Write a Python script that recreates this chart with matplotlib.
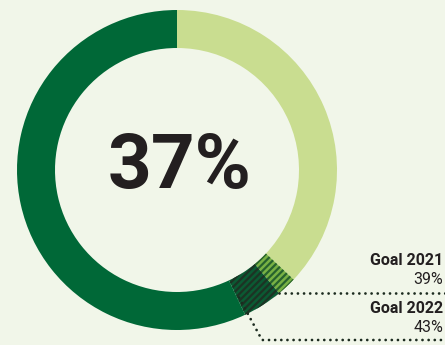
import numpy as np
import matplotlib.pyplot as plt
import matplotlib as mpl

# donut data (percent of the ring, clockwise from 12 o'clock)
segment_names = ['Progress', 'Goal 2021', 'Goal 2022', 'Remaining']
segment_values = [37, 2, 4, 57]
segment_colors = ['#c9dd90', '#78b144', '#0b5a33', '#006837']
segment_hatches = [None, '/////', '/////', None]
hatch_colors = [None, '#27622d', '#1c3324', None]

center_label = '37%'
goal_labels = ['Goal 2021', 'Goal 2022']
goal_values = ['39%', '43%']
goal_cum = [39, 43]

bg = '#f1f6e9'
text_color = '#231f20'

mpl.rcParams['hatch.linewidth'] = 1.6

fig = plt.figure(figsize=(4.45, 3.45), dpi=100)
fig.patch.set_facecolor(bg)
ax = fig.add_axes([0, 0, 1, 1])
ax.set_facecolor(bg)
ax.set_xlim(0, 445)
ax.set_ylim(0, 345)
ax.set_aspect('equal')
ax.axis('off')

cx, cy, R, ring = 177, 175, 160, 38

wedges, _ = ax.pie(segment_values, colors=segment_colors, startangle=90,
                   counterclock=False, center=(cx, cy), radius=R,
                   wedgeprops=dict(width=ring, linewidth=0))
ax.set_xlim(0, 445)
ax.set_ylim(0, 345)
for w, h, hc in zip(wedges, segment_hatches, hatch_colors):
    if h:
        w.set_hatch(h)
        w.set_edgecolor(hc)
        w.set_linewidth(0)

ax.text(cx + 3, 157, center_label, ha='center', va='baseline',
        fontsize=55, fontweight='bold', family='Roboto', color=text_color)

# leader lines for the goals
dot = dict(color='#1c2b1f', lw=2.0, linestyle=(0, (0.01, 2.2)),
           dash_capstyle='round')
a1 = np.deg2rad(90 - 360 * goal_cum[0] / 100)
x1, y1 = cx + R * np.cos(a1), cy + R * np.sin(a1)
ax.plot([x1, 445], [y1, y1], **dot)

a2 = np.deg2rad(90 - 360 * goal_cum[1] / 100)
x2, y2 = cx + (R - ring / 2) * np.cos(a2), cy + (R - ring / 2) * np.sin(a2)
ybot = 5
t = (y2 - ybot) / -np.sin(a2)
xb = x2 + t * np.cos(a2) + 5
ax.plot([x2 + 2, xb, 445], [y2, ybot, ybot], **dot)

# goal labels
label_y = [(80, 61), (32, 13)]
for (yl, yv), lab, val in zip(label_y, goal_labels, goal_values):
    ax.text(443, yl, lab, ha='right', va='baseline', fontsize=11.5,
            fontweight='bold', family='Roboto', color=text_color)
    ax.text(443, yv, val, ha='right', va='baseline', fontsize=11.5,
            family='Roboto', color=text_color)

fig.savefig('out.png', dpi=100, facecolor=bg)
